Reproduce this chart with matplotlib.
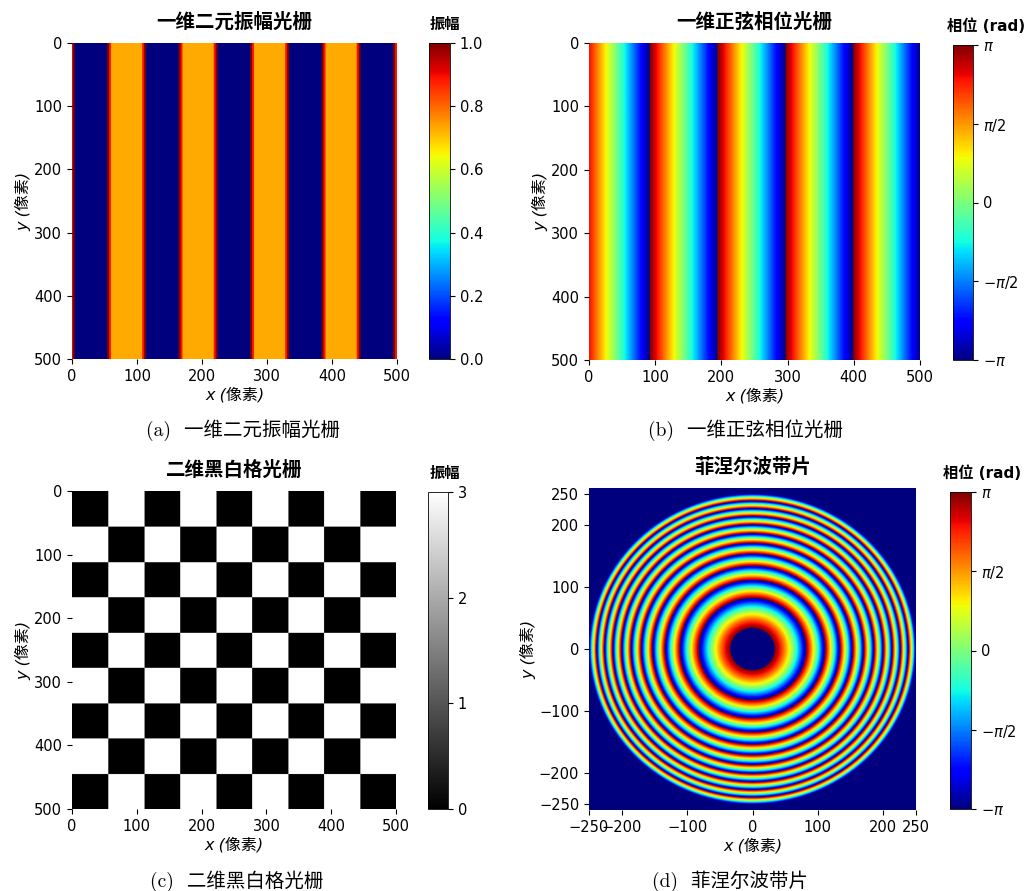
import numpy as np
import matplotlib

matplotlib.use("Agg")

import matplotlib.pyplot as plt  # noqa: E402

plt.rcParams["font.family"] = ["DejaVu Sans", "Noto Sans CJK SC"]

N = 500  # grid size in pixels

# (a) 一维二元振幅光栅: stripe layout
A_PERIOD = 110
A_FIRST_START = -56
A_STRIPE_WIDTH = 60         # including the thin rims
A_LEVEL = 0.73              # orange plateau
A_RIM_LEVELS = [1.0, 0.89]  # dark-red, red rim (3 px each)
A_RIM_WIDTH = 3

# (b) 一维正弦相位光栅: wrapped linear phase ramp
B_PERIOD = 102.3
B_OFFSET = -10.3

# (c) 二维黑白格光栅
C_SQUARES = 9
C_LEVELS = [0, 3]

# (d) 菲涅尔波带片
D_R_INNER = 34
D_R_OUTER = 250
D_ZONE_R2 = 5600            # r^2 span of one 2*pi cycle
D_Y_HALF = 259

TICKS_XY = [0, 100, 200, 300, 400, 500]
TICKS_D = [-250, -200, -100, 0, 100, 200, 250]
PHASE_TICKS = [-np.pi, -np.pi / 2, 0, np.pi / 2, np.pi]
PHASE_LABELS = [r"$-\pi$", r"$-\pi/2$", "0", r"$\pi/2$", r"$\pi$"]

# ---- build the images ----
cols = np.arange(N) + 0.5
amp_row = np.zeros(N)
for start in np.arange(A_FIRST_START, N, A_PERIOD):
    end = start + A_STRIPE_WIDTH
    inside = (cols >= start) & (cols < end)
    amp_row[inside] = A_LEVEL
    for k, lvl in enumerate(A_RIM_LEVELS):
        lo = (cols >= start + k * A_RIM_WIDTH) & (cols < start + (k + 1) * A_RIM_WIDTH)
        hi = (cols < end - k * A_RIM_WIDTH) & (cols >= end - (k + 1) * A_RIM_WIDTH)
        amp_row[lo | hi] = lvl
amp_img = np.tile(amp_row, (N, 1))

frac = ((cols - B_OFFSET) / B_PERIOD) % 1.0
phase_row = np.pi - 2 * np.pi * frac
phase_img = np.tile(phase_row, (N, 1))

sq = N / C_SQUARES
ii = (np.arange(N) // sq).astype(int)
checker = np.where((ii[:, None] + ii[None, :]) % 2 == 0, C_LEVELS[0], C_LEVELS[1])

xd = np.linspace(-250, 250, N)
yd = np.linspace(-D_Y_HALF, D_Y_HALF, N)
XX, YY = np.meshgrid(xd, yd)
R2 = XX ** 2 + YY ** 2
zone = np.pi - 2 * np.pi * (((R2 - D_R_INNER ** 2) / D_ZONE_R2) % 1.0)
zone[(R2 < D_R_INNER ** 2) | (R2 > D_R_OUTER ** 2)] = -np.pi

W, H = 1024, 891
fig = plt.figure(figsize=(W / 100, H / 100), dpi=100)


def box(left, top, right, bottom):
    return [left / W, 1 - bottom / H, (right - left) / W, (bottom - top) / H]


TICK_FS = 10.5
TITLE_FS = 14
LABEL_FS = 11.5
CAP_FS = 14
cap_family = ["cmr10", "Noto Sans CJK SC"]


def style_axes(ax, title):
    ax.set_title(title, fontsize=TITLE_FS, fontweight="bold", pad=11)
    # italic x/y from DejaVu Sans Oblique, CJK falls back to the upright Noto face
    ax.set_xlabel("x (像素)", fontsize=LABEL_FS, style="italic", labelpad=2)
    ax.set_ylabel("y (像素)", fontsize=LABEL_FS, style="italic", labelpad=2)
    ax.tick_params(labelsize=TICK_FS)
    for s in ax.spines.values():
        s.set_visible(False)


def style_cbar(cb, label, left_px):
    top = cb.ax.get_position().y1
    fig.text(left_px / W, top + 19 / H, label, fontsize=11,
             fontweight="bold", ha="left", va="center")
    cb.ax.tick_params(labelsize=TICK_FS)
    cb.outline.set_linewidth(0.6)


# (a)
ax = fig.add_axes(box(72, 43, 397, 359))
im = ax.imshow(amp_img, cmap="jet", vmin=0, vmax=1, extent=[0, N, N, 0], aspect="auto")
ax.set_xticks(TICKS_XY)
ax.set_yticks(TICKS_XY)
style_axes(ax, "一维二元振幅光栅")
cax = fig.add_axes(box(429, 43, 450, 359))
cb = fig.colorbar(im, cax=cax, ticks=[0, 0.2, 0.4, 0.6, 0.8, 1.0])
style_cbar(cb, "振幅", 430)

# (b)
ax = fig.add_axes(box(589, 43, 920, 360))
im = ax.imshow(phase_img, cmap="jet", vmin=-np.pi, vmax=np.pi, extent=[0, N, N, 0], aspect="auto")
ax.set_xticks(TICKS_XY)
ax.set_yticks(TICKS_XY)
style_axes(ax, "一维正弦相位光栅")
cax = fig.add_axes(box(953, 45, 973, 360))
cb = fig.colorbar(im, cax=cax, ticks=PHASE_TICKS)
cb.ax.set_yticklabels(PHASE_LABELS)
style_cbar(cb, "相位 (rad)", 947)

# (c)
ax = fig.add_axes(box(72, 491, 396, 809))
im = ax.imshow(checker, cmap="gray", vmin=0, vmax=3, extent=[0, N, N, 0], aspect="auto")
ax.set_xticks(TICKS_XY)
ax.set_yticks(TICKS_XY)
style_axes(ax, "二维黑白格光栅")
cax = fig.add_axes(box(428, 492, 448, 809))
cb = fig.colorbar(im, cax=cax, ticks=[0, 1, 2, 3])
style_cbar(cb, "振幅", 430)

# (d)
ax = fig.add_axes(box(589, 488, 916, 810))
im = ax.imshow(zone, cmap="jet", vmin=-np.pi, vmax=np.pi, origin="lower",
               extent=[-250, 250, -D_Y_HALF, D_Y_HALF], aspect="auto")
ax.set_xticks(TICKS_D)
ax.set_yticks(TICKS_D)
style_axes(ax, "菲涅尔波带片")
cax = fig.add_axes(box(950, 492, 971, 809))
cb = fig.colorbar(im, cax=cax, ticks=PHASE_TICKS)
cb.ax.set_yticklabels(PHASE_LABELS)
style_cbar(cb, "相位 (rad)", 943)

# captions
captions = [
    (243, 430, "(a)  一维二元振幅光栅"),
    (745, 430, "(b)  一维正弦相位光栅"),
    (237, 881, "(c)  二维黑白格光栅"),
    (730, 881, "(d)  菲涅尔波带片"),
]
for cx, cy, text in captions:
    fig.text(cx / W, 1 - cy / H, text, ha="center", va="center",
             fontsize=CAP_FS, family=cap_family)

fig.savefig("out.png", dpi=100)
plt.close(fig)
